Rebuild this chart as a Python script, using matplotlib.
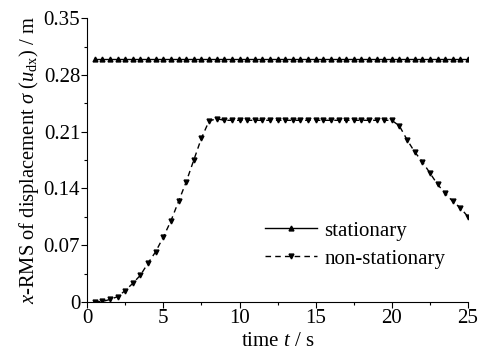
import matplotlib
matplotlib.use("Agg")
import matplotlib.pyplot as plt
from matplotlib.ticker import MultipleLocator

plt.rcParams["font.family"] = ["Liberation Serif", "DejaVu Serif"]
plt.rcParams["mathtext.fontset"] = "custom"
plt.rcParams["mathtext.rm"] = "Liberation Serif"
plt.rcParams["mathtext.it"] = "Liberation Serif:italic"

# time samples every 0.5 s
t = [0.5 * i for i in range(1, 51)]

stationary = [0.300] * 50

non_stationary = [
    0.0003, 0.0005, 0.003, 0.0065, 0.014, 0.023, 0.033, 0.048, 0.062, 0.080,
    0.100, 0.124, 0.148, 0.175, 0.202, 0.223, 0.226, 0.224, 0.224, 0.224,
    0.224, 0.224, 0.224, 0.224, 0.224, 0.224, 0.224, 0.224, 0.224, 0.224,
    0.224, 0.224, 0.224, 0.224, 0.224, 0.224, 0.224, 0.224, 0.224, 0.224,
    0.217, 0.200, 0.185, 0.173, 0.159, 0.145, 0.134, 0.124, 0.116, 0.105,
]

fig = plt.figure(figsize=(4.79, 3.56), dpi=100)
ax = fig.add_axes([0.182, 0.152, 0.795, 0.797])

ax.plot(t, stationary, "k-", marker="^", markersize=3.5, linewidth=1.0, label="stationary")
ax.plot(t, non_stationary, "k--", marker="v", markersize=3.5, linewidth=1.0,
        dashes=(4, 3), label="non-stationary")

ax.set_xlim(0, 25)
ax.set_ylim(0, 0.35)
ax.set_xticks([0, 5, 10, 15, 20, 25])
ax.set_yticks([0, 0.07, 0.14, 0.21, 0.28, 0.35])
ax.set_yticklabels(["0", "0.07", "0.14", "0.21", "0.28", "0.35"])
ax.xaxis.set_minor_locator(MultipleLocator(2.5))
ax.yaxis.set_minor_locator(MultipleLocator(0.035))
ax.tick_params(which="major", direction="out", length=4, width=0.8, labelsize=15, pad=1)
ax.tick_params(which="minor", direction="out", length=2.5, width=0.8)

ax.spines["top"].set_visible(False)
ax.spines["right"].set_visible(False)

ax.set_xlabel("time $t$ / s", fontsize=15, labelpad=3)
ax.set_ylabel(r"$x$-RMS of displacement $\sigma$ ($u_{\mathrm{dx}}$) / m", fontsize=14.8, labelpad=2)

ax.legend(loc="upper left", bbox_to_anchor=(0.467, 0.285), frameon=False, fontsize=15,
          borderpad=0, borderaxespad=0,
          handlelength=2.5, handletextpad=0.34, labelspacing=0.4)

fig.savefig("out.png", dpi=100)
